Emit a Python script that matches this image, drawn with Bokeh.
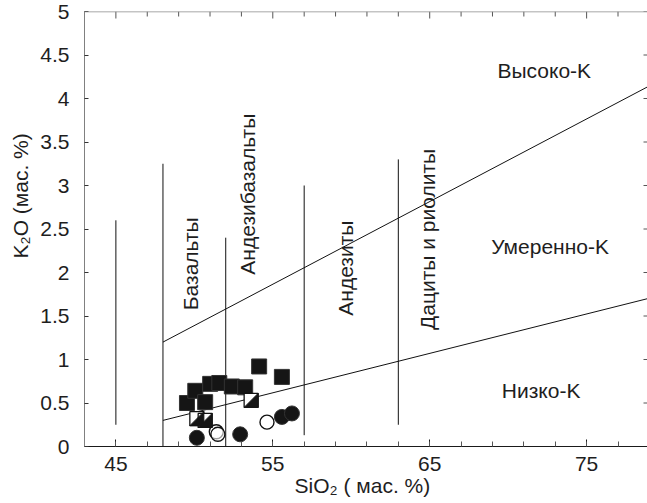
import math

from bokeh.plotting import figure
from bokeh.models import (Range1d, FixedTicker, LinearAxis, Label, Span, Title,
                          NumeralTickFormatter, ColumnDataSource)
from bokeh.embed import file_html
from bokeh.resources import INLINE

# ---- data -----------------------------------------------------------------
# vertical rock-type boundaries: SiO2 position and K2O extent
boundary_sio2 = [45, 48, 52, 57, 63]
boundary_k2o_low = [0.25, 0.0, 0.0, 0.13, 0.25]
boundary_k2o_high = [2.6, 3.25, 2.4, 3.0, 3.3]

# K-series dividing lines (high-K / medium-K and medium-K / low-K)
high_k_sio2 = [48, 80]
high_k_k2o = [1.2, 4.24]
low_k_sio2 = [48, 80]
low_k_k2o = [0.3, 1.75]

# samples, four groups
sq_sio2 = [49.53, 50.06, 50.69, 51.01, 51.59, 52.39, 53.24, 54.13, 55.58]
sq_k2o = [0.50, 0.64, 0.51, 0.72, 0.73, 0.69, 0.68, 0.92, 0.80]
half_sio2 = [50.16, 50.69, 53.62]
half_k2o = [0.32, 0.30, 0.53]
open_sio2 = [51.40, 51.50, 54.63]
open_k2o = [0.17, 0.14, 0.28]
dot_sio2 = [50.16, 52.92, 55.58, 56.22]
dot_k2o = [0.10, 0.14, 0.34, 0.38]

x_major_ticks = [45, 55, 65, 75]
x_minor_ticks = list(range(43, 80, 2))
y_ticks = [0, 0.5, 1, 1.5, 2, 2.5, 3, 3.5, 4, 4.5, 5]

# ---- figure ---------------------------------------------------------------
FONT = "Liberation Sans"
TXT = "#1e1e1e"
W, H = 647, 503
LEFT, TOP, BOTTOM = 84, 11, 57
X0, X1 = 43, 78.88
Y0, Y1 = 0, 5

frame_w = W - LEFT
frame_h = H - TOP - BOTTOM
px_x = (X1 - X0) / frame_w      # data units per pixel, x
px_y = (Y1 - Y0) / frame_h      # data units per pixel, y

p = figure(width=W, height=H, x_range=Range1d(X0, X1), y_range=Range1d(Y0, Y1),
           x_axis_type=None, y_axis_type=None,
           output_backend="svg", toolbar_location=None,
           min_border_left=LEFT, min_border_right=0,
           min_border_top=TOP, min_border_bottom=BOTTOM)
p.outline_line_color = None
p.grid.visible = False
p.background_fill_color = "white"
p.border_fill_color = "white"

x_ticker = FixedTicker(ticks=x_major_ticks, minor_ticks=x_minor_ticks)
y_ticker = FixedTicker(ticks=y_ticks)

xaxis = LinearAxis(ticker=x_ticker, axis_line_color="#1a1a1a",
                   major_tick_in=7, major_tick_out=0,
                   minor_tick_in=5, minor_tick_out=0,
                   major_tick_line_color="#1a1a1a", minor_tick_line_color="#555555",
                   major_label_standoff=10, major_label_text_font=FONT,
                   major_label_text_font_size="21px", major_label_text_color=TXT)
p.add_layout(xaxis, "below")

yaxis = LinearAxis(ticker=y_ticker, formatter=NumeralTickFormatter(format="0.[0]"),
                   axis_line_color="#808080",
                   major_tick_in=4, major_tick_out=0,
                   minor_tick_in=0, minor_tick_out=0,
                   major_tick_line_color="#333333",
                   major_label_standoff=15, major_label_text_font=FONT,
                   major_label_text_font_size="21px", major_label_text_color=TXT)
p.add_layout(yaxis, "left")

# axis titles as side-panel titles, shifted along the frame edge
p.add_layout(Title(text="K₂O  (мас. %)", align="left", offset=188, standoff=12,
                   text_font=FONT, text_font_size="21px", text_font_style="normal",
                   text_color=TXT), "left")
p.add_layout(Title(text="SiO₂ ( мас. %)", align="left", offset=210, standoff=0,
                   vertical_align="top",
                   text_font=FONT, text_font_size="21px", text_font_style="normal",
                   text_color=TXT), "below")

# top frame edge with inward ticks, and inward ticks along the right edge
p.add_layout(Span(location=Y1, dimension="width", line_color="#8a8a8a", line_width=1.5))
top_tick_len = [7 * px_y if t in x_major_ticks else 5 * px_y for t in x_minor_ticks]
p.segment(x0=x_minor_ticks, y0=[Y1] * len(x_minor_ticks),
          x1=x_minor_ticks, y1=[Y1 - d for d in top_tick_len],
          line_color="#555555", line_width=1)
p.segment(x0=[X1] * len(y_ticks), y0=y_ticks,
          x1=[X1 - 4 * px_x] * len(y_ticks), y1=y_ticks,
          line_color="#555555", line_width=1)

# ---- boundary lines -------------------------------------------------------
p.segment(x0=boundary_sio2, y0=boundary_k2o_low, x1=boundary_sio2, y1=boundary_k2o_high,
          line_color="#111111", line_width=1)
p.line(high_k_sio2, high_k_k2o, line_color="#111111", line_width=1)
p.line(low_k_sio2, low_k_k2o, line_color="#111111", line_width=1)

# ---- samples --------------------------------------------------------------
p.scatter(sq_sio2, sq_k2o, marker="square", size=15,
          fill_color="#151515", line_color="#333333", line_width=1)

p.scatter(dot_sio2, dot_k2o, marker="circle", size=15,
          fill_color="#151515", line_color="#333333", line_width=1)

p.scatter(open_sio2, open_k2o, marker="circle", size=14,
          fill_color="white", fill_alpha=0.6, line_color="#111111", line_width=1.4)

# half-filled squares: white square with a black lower-right triangle
half_px = 7.0
hx = half_px * px_x
hy = half_px * px_y
p.scatter(half_sio2, half_k2o, marker="square", size=2 * half_px,
          fill_color="white", line_color="#111111", line_width=1.3)
tri = ColumnDataSource(dict(
    xs=[[x - hx, x + hx, x + hx] for x in half_sio2],
    ys=[[y - hy, y - hy, y + hy] for y in half_k2o],
))
p.patches("xs", "ys", source=tri, fill_color="#151515", line_color="#151515", line_width=1)

# ---- field names ----------------------------------------------------------
def add_label(x, y, text, angle=0.0):
    p.add_layout(Label(x=x, y=y, text=text, angle=angle,
                       text_align="center", text_baseline="middle",
                       text_font=FONT, text_font_size="21px", text_color=TXT))

add_label(49.74, 2.10, "Базальты", math.pi / 2)
add_label(53.40, 2.90, "Андезибазальты", math.pi / 2)
add_label(59.62, 2.05, "Андезиты", math.pi / 2)
add_label(64.84, 2.38, "Дациты и риолиты", math.pi / 2)

add_label(72.3, 4.32, "Высоко-K")
add_label(72.67, 2.30, "Умеренно-K")
add_label(72.1, 0.64, "Низко-K")

open("out.html", "w").write(file_html(p, INLINE))
